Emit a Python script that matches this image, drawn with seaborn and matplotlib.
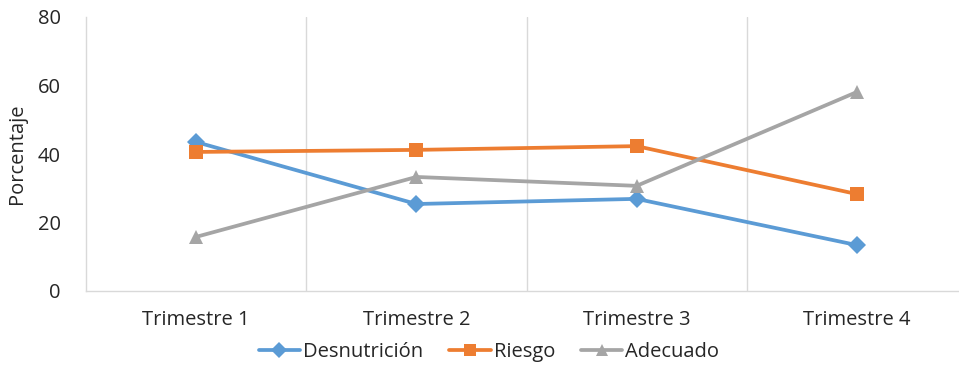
import matplotlib
matplotlib.use("Agg")
import matplotlib.pyplot as plt
import seaborn as sns
import pandas as pd

trimestres = ["Trimestre 1", "Trimestre 2", "Trimestre 3", "Trimestre 4"]
desnutricion = [43.5, 25.4, 26.9, 13.4]
riesgo = [40.6, 41.2, 42.3, 28.3]
adecuado = [15.8, 33.3, 30.7, 58.1]
series = ["Desnutrición", "Riesgo", "Adecuado"]
colores = ["#5B9BD5", "#ED7D31", "#A5A5A5"]
marcadores = ["D", "s", "^"]

sns.set_theme(style="white")
plt.rcParams["font.family"] = ["Open Sans", "DejaVu Sans"]

rows = []
for nombre, valores in zip(series, [desnutricion, riesgo, adecuado]):
    for i, v in enumerate(valores):
        rows.append({"pos": i + 1, "valor": v, "serie": nombre})
df = pd.DataFrame(rows)

fig = plt.figure(figsize=(9.59, 3.66), dpi=100)
ax = fig.add_axes([86 / 959, 75 / 366, 881 / 959, 274 / 366])

sns.lineplot(data=df, x="pos", y="valor", hue="serie", style="serie",
             hue_order=series, style_order=series,
             palette=colores, markers=marcadores, dashes=False,
             linewidth=2.7, markersize=9.5, markeredgewidth=0, ax=ax)

ax.set_xlim(0.5, 4.5)
ax.set_ylim(0, 80)
ax.set_yticks([0, 20, 40, 60, 80])
ax.set_xticks([1, 2, 3, 4])
ax.set_xticklabels(trimestres)
for xb in [1.5, 2.5, 3.5]:
    ax.axvline(xb, color="#D9D9D9", linewidth=1, zorder=0)

for s in ["top", "right"]:
    ax.spines[s].set_visible(False)
for s in ["left", "bottom"]:
    ax.spines[s].set_color("#D9D9D9")
    ax.spines[s].set_linewidth(1)

ax.tick_params(axis="both", length=0, labelsize=14.5, colors="#262626")
ax.tick_params(axis="y", pad=18)
ax.tick_params(axis="x", pad=14)
ax.set_xlabel("")
ax.set_ylabel("Porcentaje", fontsize=14.5, color="#262626", labelpad=8)

handles, labels = ax.get_legend_handles_labels()
for h in handles:
    h.set_markersize(8)
ax.legend(handles, labels, loc="center", bbox_to_anchor=(489 / 959, 14 / 366),
          bbox_transform=fig.transFigure, ncol=3, frameon=False,
          fontsize=14.5, handlelength=2.05, handletextpad=0.15, columnspacing=1.3,
          labelcolor="#262626")

fig.savefig("out.png", dpi=100)
